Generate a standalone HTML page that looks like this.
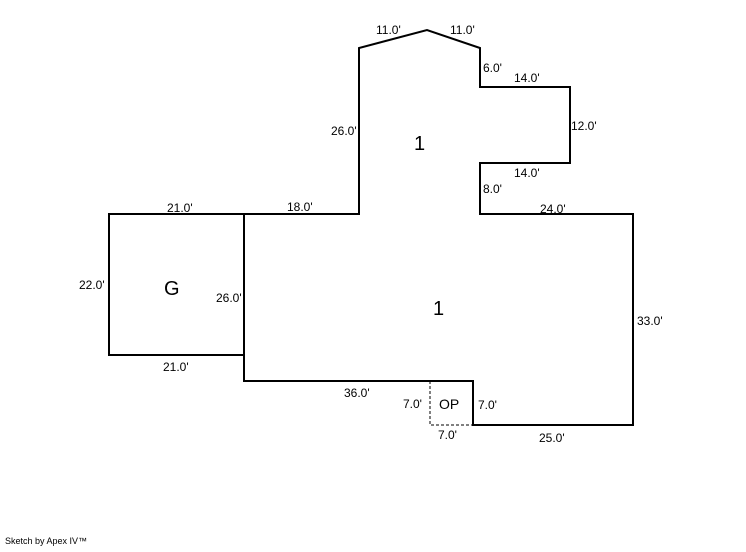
<!DOCTYPE html>
<html><head><style>
body{margin:0;background:#fff;width:746px;height:547px;overflow:hidden}
svg text{font-family:"Liberation Sans",Arial,sans-serif;font-size:12px;fill:#000}
</style></head><body>
<svg width="746" height="547" xmlns="http://www.w3.org/2000/svg">
<g fill="none" stroke="#000" stroke-width="2">
<polyline points="244,214 359,214 359,48 427,30 480,48 480,87 570,87 570,163 480,163 480,214 633,214 633,425 473,425 473,381 244,381 244,214"/>
<polyline points="244,214 109,214 109,355 244,355"/>
</g>
<polyline points="430,381 430,425 473,425" fill="none" stroke="#000" stroke-width="1" stroke-dasharray="3,2"/>
<text x="376" y="34">11.0'</text>
<text x="450" y="34">11.0'</text>
<text x="483" y="72">6.0'</text>
<text x="514" y="82">14.0'</text>
<text x="571" y="130">12.0'</text>
<text x="331" y="135">26.0'</text>
<text x="414" y="150" style="font-size:20px">1</text>
<text x="514" y="177">14.0'</text>
<text x="483" y="193">8.0'</text>
<text x="540" y="213">24.0'</text>
<text x="167" y="212">21.0'</text>
<text x="287" y="211">18.0'</text>
<text x="79" y="289">22.0'</text>
<text x="164" y="295" style="font-size:20px">G</text>
<text x="216" y="302">26.0'</text>
<text x="433" y="315" style="font-size:20px">1</text>
<text x="637" y="325">33.0'</text>
<text x="163" y="371">21.0'</text>
<text x="344" y="397">36.0'</text>
<text x="403" y="408">7.0'</text>
<text x="439" y="409" style="font-size:14px">OP</text>
<text x="478" y="409">7.0'</text>
<text x="438" y="439">7.0'</text>
<text x="539" y="442">25.0'</text>
<text x="5" y="544" style="font-size:9px">Sketch by Apex IV™</text>
</svg>
</body></html>
